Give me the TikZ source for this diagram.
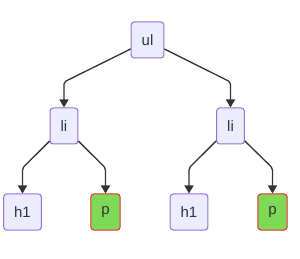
\documentclass[tikz,border=0pt]{standalone}
\usepackage{fontspec}
\setmainfont{Liberation Sans}
\usetikzlibrary{arrows.meta,positioning}
\definecolor{boxfill}{RGB}{236,236,255}
\definecolor{boxline}{RGB}{147,112,219}
\definecolor{textgray}{RGB}{51,51,51}
\definecolor{leafgreen}{RGB}{126,217,87}
\definecolor{leafred}{RGB}{235,45,45}

\begin{document}
\begin{tikzpicture}[x=1pt, y=1pt,
  every node/.style={font=\fontsize{15}{18}\selectfont, text=textgray},
  box/.style={rectangle, rounded corners=3pt, draw=boxline, fill=boxfill, line width=1pt, minimum height=36pt, inner xsep=10.5pt},
  hit/.style={box, draw=leafred, fill=leafgreen},
  edge/.style={draw=textgray, line width=1.3pt, rounded corners=2pt, -{Triangle[length=8pt,width=9pt]}}]
	\useasboundingbox (0,0) rectangle (300,-259);
	% Root
	\node[box] (ul) at (147.5,-40) {ul};
	% List items
	\node[box] (li1) at (64,-126) {li};
	\node[box] (li2) at (230.5,-126) {li};
	% Leaves
	\node[box] (h1a) at (22.5,-212) {h1};
	\node[hit] (pa) at (105.5,-212) {p};
	\node[box] (h1b) at (189,-212) {h1};
	\node[hit] (pb) at (272.5,-212) {p};
	% Connections
	\draw[edge] ([yshift=-9pt]ul.west) -- (li1.north |- 0,-82) -- (li1.north);
	\draw[edge] ([yshift=-9pt]ul.east) -- (li2.north |- 0,-82) -- (li2.north);
	\draw[edge] ([yshift=-15pt]li1.west) -- (h1a.north |- 0,-168) -- (h1a.north);
	\draw[edge] ([yshift=-15pt]li1.east) -- (pa.north |- 0,-168) -- (pa.north);
	\draw[edge] ([yshift=-15pt]li2.west) -- (h1b.north |- 0,-168) -- (h1b.north);
	\draw[edge] ([yshift=-15pt]li2.east) -- (pb.north |- 0,-168) -- (pb.north);
\end{tikzpicture}
\end{document}
